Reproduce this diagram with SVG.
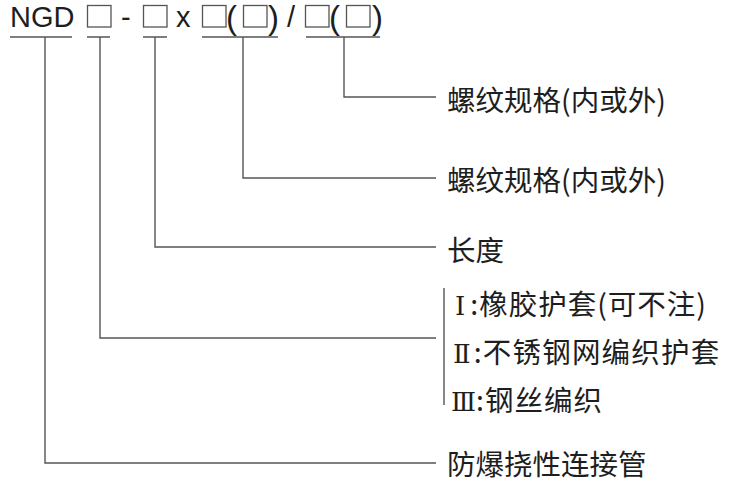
<svg xmlns="http://www.w3.org/2000/svg" width="730" height="483" viewBox="0 0 730 483">
<style>
.t{font-family:"Liberation Sans",Arial,sans-serif;font-size:29px;fill:#1e1e1e}
.p{font-family:"Liberation Sans",Arial,sans-serif;font-size:33px;fill:#1e1e1e}
.c{font-family:"Noto Sans CJK SC","Noto Sans",sans-serif;font-size:28.5px;fill:#1e1e1e}
.r{font-family:"DejaVu Serif","Liberation Serif",serif;font-size:26px;fill:#1e1e1e}
.b{fill:none;stroke:#555;stroke-width:1.3}
.l{fill:none;stroke:#555;stroke-width:1.4}
</style>
<rect width="730" height="483" fill="#fff"/>
<g id="code">
<text class="t" x="10" y="27">NGD</text>
<rect class="b" x="87.5" y="5.5" width="23.5" height="21.5"/>
<text class="t" x="121" y="27">-</text>
<rect class="b" x="143.5" y="5.5" width="23.5" height="21.5"/>
<text class="t" x="176" y="27">x</text>
<rect class="b" x="202.5" y="5.5" width="23.5" height="21.5"/>
<text class="p" x="226" y="29">(</text>
<rect class="b" x="243.5" y="5.5" width="23.5" height="21.5"/>
<text class="p" x="268" y="29">)</text>
<text class="t" x="287" y="27">/</text>
<rect class="b" x="305.5" y="5.5" width="23.5" height="21.5"/>
<text class="p" x="329" y="29">(</text>
<rect class="b" x="346.5" y="5.5" width="23.5" height="21.5"/>
<text class="p" x="372" y="29">)</text>
</g>
<g id="connectors" class="l">
<path d="M10 37H72M87 37H110M143 37H167M202 37H278M306 37H380"/>
<path d="M344 37V97H436"/>
<path d="M243 37V178H436"/>
<path d="M155 37V247H436"/>
<path d="M100 37V338H436"/>
<path d="M45 37V463H436"/>
<path d="M444 288V405"/>
</g>
<g id="label-thread2"><text class="c" x="447" y="111">螺纹规格(内或外)</text></g>
<g id="label-thread1"><text class="c" x="447" y="191">螺纹规格(内或外)</text></g>
<g id="label-length"><text class="c" x="447" y="261">长度</text></g>
<g id="label-types">
<text x="455" y="315"><tspan class="r">Ⅰ</tspan><tspan class="c" dx="5" letter-spacing="1">:橡胶护套(可不注)</tspan></text>
<text x="453" y="363"><tspan class="r">Ⅱ</tspan><tspan class="c" dx="3" letter-spacing="1.2">:不锈钢网编织护套</tspan></text>
<text x="451" y="411"><tspan class="r">Ⅲ</tspan><tspan class="c" letter-spacing="1">:钢丝编织</tspan></text>
</g>
<g id="label-name"><text class="c" x="447" y="475">防爆挠性连接管</text></g>
</svg>
